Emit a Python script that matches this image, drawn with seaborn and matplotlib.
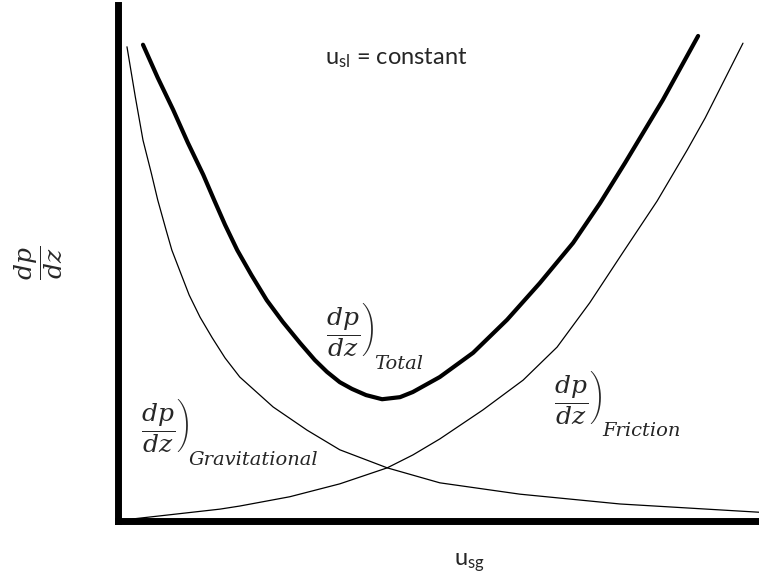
import numpy as np
import pandas as pd
import matplotlib
matplotlib.use('Agg')
import matplotlib.pyplot as plt
import seaborn as sns

# curve points (u_sg, dp/dz in arbitrary units 0-10)
grav_x = [0.14, 0.27, 0.39, 0.52, 0.62, 0.75, 0.84, 0.97, 1.11, 1.28, 1.47, 1.67,
          1.90, 2.42, 2.95, 3.46, 4.20, 5.02, 6.27, 7.83, 10.0]
grav_y = [9.19, 8.22, 7.38, 6.74, 6.22, 5.64, 5.25, 4.83, 4.38, 3.95, 3.55, 3.16,
          2.79, 2.21, 1.76, 1.38, 1.03, 0.74, 0.52, 0.33, 0.17]

fric_x = [0.23, 1.59, 1.90, 2.68, 3.46, 4.20, 4.60, 5.02, 5.69, 6.32, 6.85, 7.36,
          7.88, 8.41, 8.88, 9.16, 9.75]
fric_y = [0.04, 0.23, 0.29, 0.47, 0.72, 1.03, 1.28, 1.59, 2.15, 2.73, 3.37, 4.23,
          5.21, 6.20, 7.19, 7.81, 9.26]

tot_x = [0.39, 0.62, 0.86, 1.09, 1.33, 1.50, 1.67, 1.86, 2.08, 2.32, 2.57, 2.84,
         3.07, 3.26, 3.46, 3.65, 3.87, 4.12, 4.40, 4.60, 5.02, 5.54, 6.07, 6.58,
         7.10, 7.52, 7.91, 8.50, 9.05]
tot_y = [9.23, 8.59, 7.97, 7.33, 6.71, 6.22, 5.74, 5.25, 4.77, 4.28, 3.86, 3.45,
         3.12, 2.89, 2.69, 2.56, 2.44, 2.36, 2.40, 2.50, 2.79, 3.26, 3.90, 4.61,
         5.39, 6.16, 6.94, 8.16, 9.40]

sns.set_style('white')
plt.rcParams['mathtext.fontset'] = 'custom'
plt.rcParams['mathtext.rm'] = 'DejaVu Serif'
plt.rcParams['mathtext.it'] = 'DejaVu Serif:italic'
plt.rcParams['mathtext.bf'] = 'DejaVu Serif:bold'
plt.rcParams['mathtext.sf'] = 'Lato'

fig = plt.figure(figsize=(7.59, 5.75), dpi=100)
ax = fig.add_axes([118 / 759, 54 / 575, 1 - 118 / 759, 1 - 59 / 575])

grav = pd.DataFrame({'usg': grav_x, 'dpdz': grav_y})
fric = pd.DataFrame({'usg': fric_x, 'dpdz': fric_y})
tot = pd.DataFrame({'usg': tot_x, 'dpdz': tot_y})

sns.lineplot(data=grav, x='usg', y='dpdz', color='black', linewidth=0.9, sort=False, ax=ax)
sns.lineplot(data=fric, x='usg', y='dpdz', color='black', linewidth=0.9, sort=False, ax=ax)
sns.lineplot(data=tot, x='usg', y='dpdz', color='black', linewidth=3, sort=False, ax=ax)

ax.set_xlim(0, 10)
ax.set_ylim(0, 10)
ax.set_xticks([])
ax.set_yticks([])
ax.set_xlabel('')
ax.set_ylabel('')
for s in ['top', 'right']:
    ax.spines[s].set_visible(False)
for s in ['left', 'bottom']:
    ax.spines[s].set_color('black')
    ax.spines[s].set_linewidth(5)

frac = r'$\left.\dfrac{dp}{dz}\right)$'
sub_style = dict(family='DejaVu Serif', style='italic', fontsize=14, va='baseline', ha='left')

# total
fig.text(326 / 759, 1 - 329 / 575, frac, fontsize=18, ha='left', va='center')
fig.text(374 / 759, 1 - 369 / 575, 'Total', **sub_style)
# gravitational
fig.text(141 / 759, 1 - 426 / 575, frac, fontsize=18, ha='left', va='center')
fig.text(189 / 759, 1 - 465 / 575, 'Gravitational', **sub_style)
# friction
fig.text(554 / 759, 1 - 398 / 575, frac, fontsize=18, ha='left', va='center')
fig.text(602 / 759, 1 - 436 / 575, 'Friction', **sub_style)

# axis labels
fig.text(39 / 759, 1 - 263 / 575, r'$\dfrac{dp}{dz}$', fontsize=18, rotation=90,
         ha='center', va='center')
fig.text(469 / 759, 1 - 563 / 575, r'u$_\mathsf{sg}$', family='Lato', fontsize=17,
         ha='center', va='center')
fig.text(396 / 759, 1 - 58 / 575, r'u$_\mathsf{sl}$ = constant', family='Lato', fontsize=17,
         ha='center', va='center')

fig.savefig('out.png', dpi=100)
